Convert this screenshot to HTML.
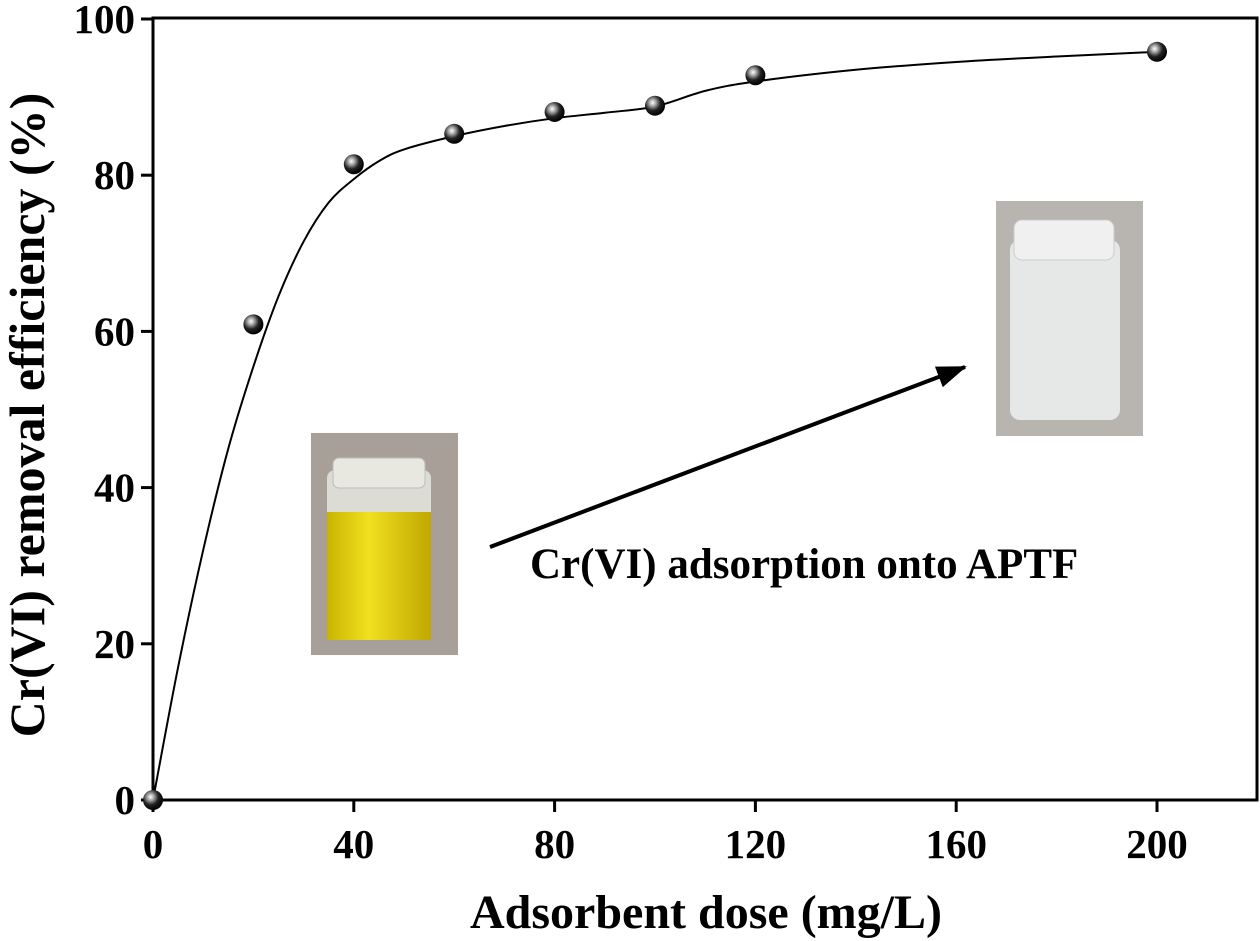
<!DOCTYPE html>
<html><head><meta charset="utf-8"><style>
body{margin:0;background:#fff}
svg{display:block;font-family:"Liberation Serif",serif;font-weight:bold}
</style></head><body>
<svg id="chart" width="1260" height="941">
<defs>
<radialGradient id="ball" cx="0.38" cy="0.35" r="0.65">
<stop offset="0" stop-color="#fff"/><stop offset="0.25" stop-color="#aaa"/><stop offset="0.6" stop-color="#222"/><stop offset="1" stop-color="#000"/>
</radialGradient>
<linearGradient id="yellow" x1="0" y1="0" x2="1" y2="0">
<stop offset="0" stop-color="#c8b400"/><stop offset="0.4" stop-color="#f0e020"/><stop offset="1" stop-color="#c0a800"/>
</linearGradient>
<marker id="ah" markerWidth="30" markerHeight="22" refX="28" refY="11" orient="auto" markerUnits="userSpaceOnUse" viewBox="0 0 30 22"><path d="M0,0 L30,11 L0,22 z" fill="#000"/></marker>
</defs>
<rect x="153" y="18" width="1104" height="782" fill="none" stroke="#000" stroke-width="3"/>
<g id="axes"></g>
<g id="photo-left">
<rect x="311" y="433" width="147" height="222" fill="#a8a098"/>
<rect x="327" y="470" width="104" height="170" rx="8" fill="#dcdcd4"/>
<rect x="327" y="512" width="104" height="128" fill="url(#yellow)"/>
<rect x="333" y="458" width="92" height="30" rx="6" fill="#e8e8e0" stroke="#bbb"/>
</g>
<g id="photo-right">
<rect x="996" y="201" width="147" height="235" fill="#b8b4b0"/>
<rect x="1010" y="240" width="110" height="180" rx="10" fill="#e6e8e8"/>
<rect x="1014" y="220" width="100" height="40" rx="8" fill="#f0f0f0" stroke="#ccc"/>
</g>
<line x1="490" y1="547" x2="965" y2="367" stroke="#000" stroke-width="4" marker-end="url(#ah)"/>
<text x="530" y="578" font-size="43">Cr(VI) adsorption onto APTF</text>
<text x="706" y="928" font-size="48" text-anchor="middle">Adsorbent dose (mg/L)</text>
<text transform="translate(44,415) rotate(-90)" font-size="50" text-anchor="middle">Cr(VI) removal efficiency (%)</text>
<g id="marks"></g>
</svg>
<script>
const xTicks=[0,40,80,120,160,200];
const yTicks=[0,20,40,60,80,100];
const doses=[0,20,40,60,80,100,120,200];
const efficiency=[0,60.9,81.4,85.3,88.1,88.9,92.8,95.8];
const fitX=[0,5,10,15,20,25,30,35,40,45,50,60,70,80,90,100,110,120,140,160,180,200];
const fitY=[0,17,32,45,55.5,64.5,71.5,76.5,79.5,81.8,83.3,85,86.3,87.3,88,88.8,90.8,92,93.5,94.5,95.2,95.8];
const sx=v=>153+v*5.02;
const sy=v=>800-v*7.81;
const NS="http://www.w3.org/2000/svg";
const axes=document.getElementById('axes'),marks=document.getElementById('marks');
function mk(tag,attrs,parent){const e=document.createElementNS(NS,tag);for(const k in attrs)e.setAttribute(k,attrs[k]);parent.appendChild(e);return e;}
xTicks.forEach(t=>{
 const l=mk('line',{x1:sx(t),x2:sx(t),y1:800,y2:812,stroke:'#000','stroke-width':3},axes);
 
 
 const tx=mk('text',{x:sx(t),y:858,'font-size':41,'text-anchor':'middle'},axes);tx.textContent=t;
 
 
});
yTicks.forEach(t=>{
 const l=mk('line',{x1:141,x2:153,y1:sy(t),y2:sy(t),stroke:'#000','stroke-width':3},axes);
 
 
 const tx=mk('text',{x:135,y:sy(t)+14,'font-size':41,'text-anchor':'end'},axes);tx.textContent=t;
 
 
});
const P=fitX.map((x,i)=>[sx(x),sy(fitY[i])]);
let d='M'+P[0][0]+','+P[0][1];
for(let i=0;i<P.length-1;i++){const p0=P[i-1]||P[i],p1=P[i],p2=P[i+1],p3=P[i+2]||P[i+1];
 d+=` C${p1[0]+(p2[0]-p0[0])/6},${p1[1]+(p2[1]-p0[1])/6} ${p2[0]-(p3[0]-p1[0])/6},${p2[1]-(p3[1]-p1[1])/6} ${p2[0]},${p2[1]}`;}
const fit=mk('path',{d:d,fill:'none',stroke:'#000','stroke-width':2},marks);


doses.forEach((x,i)=>{
 const c=mk('circle',{cx:sx(x),cy:sy(efficiency[i]),r:10,fill:'url(#ball)'},marks);
 
 
});
</script>
</body></html>
